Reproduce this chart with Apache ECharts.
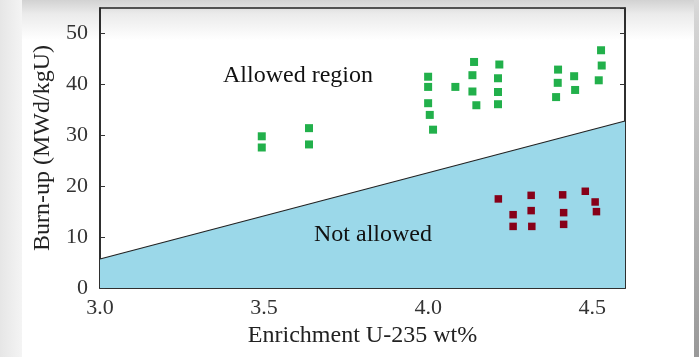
<!DOCTYPE html>
<html><head><meta charset="utf-8">
<script src="https://cdn.jsdelivr.net/npm/echarts@6/dist/echarts.min.js"></script>
<style>html,body{margin:0;padding:0;background:#fff}#c{width:699px;height:357px}</style>
</head><body><div id="c"></div>
<script>
const xTicks = ['3.0','3.5','4.0','4.5'];
const yTicks = ['0','10','20','30','40','50'];
const limitLine = [[3.0, 5.7], [4.6, 32.8]];
const allowedX = [3.493,3.493,3.637,3.637,4.0,4.0,4.0,4.005,4.015,4.083,4.14,4.135,4.135,4.147,4.217,4.213,4.213,4.213,4.396,4.395,4.39,4.445,4.448,4.527,4.529,4.52];
const allowedY = [29.8,27.6,31.4,28.2,41.5,39.5,36.3,34.0,31.1,39.5,44.4,41.8,38.6,35.9,43.9,41.2,38.5,36.1,42.9,40.3,37.5,41.6,38.9,46.7,43.7,40.8];
const failedX = [4.214,4.259,4.259,4.314,4.314,4.316,4.41,4.413,4.413,4.479,4.509,4.513];
const failedY = [17.5,14.4,12.1,18.2,15.2,12.1,18.3,14.8,12.5,19.0,16.9,15.0];

const zip = (a,b) => a.map((v,i)=>[v,b[i]]);
const serif = '"Liberation Serif", "DejaVu Serif", serif';
const chart = echarts.init(document.getElementById('c'), null, {renderer:'canvas'});
chart.setOption({
  animation: false,
  backgroundColor: '#ffffff',
  graphic: [
    {type:'rect', z:-10, shape:{x:0,y:0,width:699,height:40}, style:{fill:new echarts.graphic.LinearGradient(0,0,0,1,[{offset:0,color:'#d2d2d2'},{offset:0.35,color:'#ebebeb'},{offset:1,color:'#ffffff'}])}, silent:true},
    {type:'rect', z:-9, shape:{x:0,y:0,width:22,height:357}, style:{fill:new echarts.graphic.LinearGradient(0,0,1,0,[{offset:0,color:'#e6e6e6'},{offset:1,color:'#f4f4f4'}])}, silent:true},
    {type:'rect', z:-9, shape:{x:694,y:0,width:5,height:357}, style:{fill:new echarts.graphic.LinearGradient(0,0,0,1,[{offset:0,color:'#d8d8d8'},{offset:1,color:'#999999'}])}, silent:true},
    {type:'text', z:10, x:298, y:76, style:{text:'Allowed region', font:'24px '+serif, fill:'#111', align:'center', verticalAlign:'middle'}},
    {type:'text', z:10, x:373, y:235, style:{text:'Not allowed', font:'24px '+serif, fill:'#111', align:'center', verticalAlign:'middle'}}
  ],
  grid: {left:100, right:74, top:8, bottom:69, show:true, borderColor:'#222', borderWidth:1.5, backgroundColor:'transparent'},
  xAxis: {
    type:'value', min:3.0, max:4.6, interval:0.5,
    name:'Enrichment U-235 wt%', nameLocation:'middle', nameGap:35,
    nameTextStyle:{fontFamily:serif, fontSize:24, color:'#222'},
    axisLine:{show:true, lineStyle:{color:'#222', width:1.5}},
    axisTick:{show:false},
    splitLine:{show:false},
    axisLabel:{fontFamily:serif, fontSize:22, color:'#333', margin:9, showMaxLabel:false,
      formatter:v=>{const s=v.toFixed(1); return xTicks.includes(s)?s:'';}}
  },
  yAxis: [{
    type:'value', min:0, max:55, interval:10,
    name:'Burn-up (MWd/kgU)', nameLocation:'middle', nameGap:45, nameRotate:90,
    nameTextStyle:{fontFamily:serif, fontSize:24, color:'#222'},
    axisLine:{show:true, lineStyle:{color:'#222', width:1.5}},
    axisTick:{show:true, inside:true, length:5, lineStyle:{color:'#333'}},
    splitLine:{show:false},
    axisLabel:{fontFamily:serif, fontSize:22, color:'#333', margin:12, showMaxLabel:false,
      formatter:v=>{const s=String(v); return yTicks.includes(s)?s:'';}}
  },{
    type:'value', min:0, max:55, interval:10, position:'right',
    axisLine:{show:true, lineStyle:{color:'#222', width:1.5}},
    axisTick:{show:true, inside:true, length:5, lineStyle:{color:'#333'}},
    axisLabel:{show:false}, splitLine:{show:false}
  }],
  series: [
    {type:'line', data:limitLine, symbol:'none', lineStyle:{color:'#222', width:1.2},
     areaStyle:{color:'#9bd8e9', opacity:1}, z:1},
    {type:'scatter', data:zip(allowedX, allowedY), symbol:'rect', symbolSize:8, itemStyle:{color:'#22b04b', opacity:1}, z:3},
    {type:'scatter', data:zip(failedX, failedY), symbol:'rect', symbolSize:7.5, itemStyle:{color:'#870018', opacity:1}, z:3}
  ],
  textStyle:{fontFamily:serif}
});
</script></body></html>
